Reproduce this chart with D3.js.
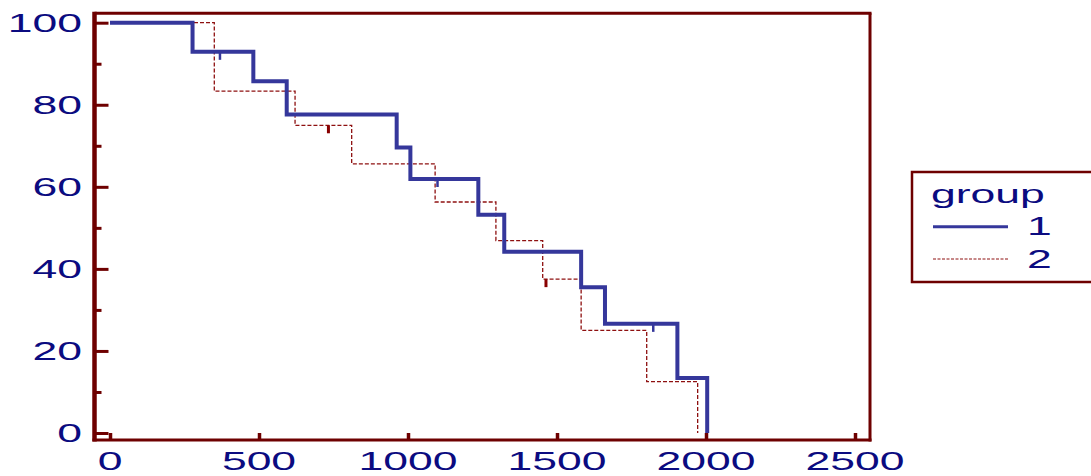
<!DOCTYPE html>
<html>
<head>
<meta charset="utf-8">
<script src="https://cdn.jsdelivr.net/npm/d3@7/dist/d3.min.js"></script>
<style>
  html, body { margin: 0; padding: 0; background: #ffffff; }
  svg { display: block; }
  text { font-family: "Liberation Sans", Arial, sans-serif; fill: #0b0b80; }
</style>
</head>
<body>
<svg id="chart" width="1091" height="476"></svg>
<script>
// ---- data ----
const group1Times    = [0, 277, 481, 593, 962, 1008, 1236, 1323, 1581, 1661, 1904, 2004];
const group1Survival = [100, 92.9, 85.7, 77.6, 69.6, 61.9, 53.2, 44.2, 35.5, 26.6, 13.4, 0];
const group1CensorT  = [369, 1099, 1823];
const group1CensorS  = [92.9, 61.9, 26.6];

const group2Times    = [0, 350, 621, 811, 1091, 1295, 1452, 1581, 1801, 1972];
const group2Survival = [100, 83.3, 75, 65.6, 56.3, 46.9, 37.5, 25, 12.5, 0];
const group2CensorT  = [733, 1463];
const group2CensorS  = [75, 37.5];

const xTicks      = [0, 500, 1000, 1500, 2000, 2500];
const yTicks      = [0, 20, 40, 60, 80, 100];
const yMinorTicks = [10, 30, 50, 70, 90];
const legendTitle = "group";
const legendLabels = ["1", "2"];

// ---- styling ----
const axisColor = "#6e0000";
const blue = "#35379b";
const red = "#8e1010";
const fs = 25, sx = 1.78;

const svg = d3.select("#chart");

const x = d3.scaleLinear().domain([0, 2500]).range([110, 855]);
const y = d3.scaleLinear().domain([0, 100]).range([433, 22.7]);

const frameL = 94.5, frameR = 870, frameT = 13.3, frameB = 440;

// frame (top & right borders)
svg.append("line").attr("x1", frameL).attr("x2", frameR + 1.5).attr("y1", frameT).attr("y2", frameT)
  .attr("stroke", axisColor).attr("stroke-width", 3);
svg.append("line").attr("x1", frameR).attr("x2", frameR).attr("y1", frameT).attr("y2", frameB + 1.5)
  .attr("stroke", axisColor).attr("stroke-width", 3);

// y axis ticks (inward)
const yAxisG = svg.append("g").attr("transform", `translate(${frameL},0)`)
  .call(d3.axisRight(y).tickValues(yTicks).tickSize(14).tickFormat(""));
const yMinorG = svg.append("g").attr("transform", `translate(${frameL},0)`)
  .call(d3.axisRight(y).tickValues(yMinorTicks).tickSize(7).tickFormat(""));
[yAxisG, yMinorG].forEach(g => {
  g.select(".domain").remove();
  g.selectAll(".tick line").attr("stroke", axisColor).attr("stroke-width", 3);
});

// x axis ticks (inward)
const xAxisG = svg.append("g").attr("transform", `translate(0,${frameB})`)
  .call(d3.axisTop(x).tickValues(xTicks).tickSize(7).tickFormat(""));
xAxisG.select(".domain").remove();
xAxisG.selectAll(".tick line").attr("stroke", axisColor).attr("stroke-width", 3.5);

// axis lines
svg.append("line").attr("x1", frameL).attr("x2", frameL).attr("y1", frameT - 1.5).attr("y2", frameB + 1.5)
  .attr("stroke", axisColor).attr("stroke-width", 4.5);
svg.append("line").attr("x1", frameL - 2).attr("x2", frameR + 1.5).attr("y1", frameB).attr("y2", frameB)
  .attr("stroke", axisColor).attr("stroke-width", 3);

// tick labels (horizontally stretched like the reference)
svg.append("g").selectAll("text").data(yTicks).join("text")
  .attr("transform", d => `translate(82,${y(d) + 9.3}) scale(${sx},1)`)
  .attr("text-anchor", "end").attr("font-size", fs).text(d => d);
svg.append("g").selectAll("text").data(xTicks).join("text")
  .attr("transform", d => `translate(${x(d)},${469.6}) scale(${sx},1)`)
  .attr("text-anchor", "middle").attr("font-size", fs).text(d => d);

// survival curves
const line = d3.line().x(d => x(d[0])).y(d => y(d[1])).curve(d3.curveStepAfter);
const g2 = group2Times.map((t, i) => [t, group2Survival[i]]);
const g1 = group1Times.map((t, i) => [t, group1Survival[i]]);

svg.append("path").datum(g2).attr("d", line).attr("fill", "none")
  .attr("stroke", red).attr("stroke-width", 1.3).attr("stroke-dasharray", "4,2");
svg.append("path").datum(g1).attr("d", line).attr("fill", "none")
  .attr("stroke", blue).attr("stroke-width", 4).attr("stroke-linejoin", "miter").attr("stroke-linecap", "butt");

// censor marks
svg.append("g").selectAll("line").data(group1CensorT.map((t, i) => [t, group1CensorS[i]])).join("line")
  .attr("x1", d => x(d[0])).attr("x2", d => x(d[0]))
  .attr("y1", d => y(d[1])).attr("y2", d => y(d[1]) + 8)
  .attr("stroke", blue).attr("stroke-width", 2.5);
svg.append("g").selectAll("line").data(group2CensorT.map((t, i) => [t, group2CensorS[i]])).join("line")
  .attr("x1", d => x(d[0])).attr("x2", d => x(d[0]))
  .attr("y1", d => y(d[1])).attr("y2", d => y(d[1]) + 8)
  .attr("stroke", "#880000").attr("stroke-width", 3);

// legend
svg.append("rect").attr("x", 912).attr("y", 172).attr("width", 200).attr("height", 110)
  .attr("fill", "none").attr("stroke", axisColor).attr("stroke-width", 2.5);
svg.append("text").attr("transform", `translate(931,203.3) scale(${sx},1)`)
  .attr("font-size", fs).text(legendTitle);
svg.append("line").attr("x1", 933).attr("x2", 1008).attr("y1", 226.7).attr("y2", 226.7)
  .attr("stroke", blue).attr("stroke-width", 3);
svg.append("line").attr("x1", 933).attr("x2", 1008).attr("y1", 259).attr("y2", 259)
  .attr("stroke", red).attr("stroke-width", 1).attr("stroke-dasharray", "3,1.5");
svg.append("text").attr("transform", `translate(1027,235) scale(${sx},1)`)
  .attr("font-size", fs).text(legendLabels[0]);
svg.append("text").attr("transform", `translate(1027,268.3) scale(${sx},1)`)
  .attr("font-size", fs).text(legendLabels[1]);
</script>
</body>
</html>
